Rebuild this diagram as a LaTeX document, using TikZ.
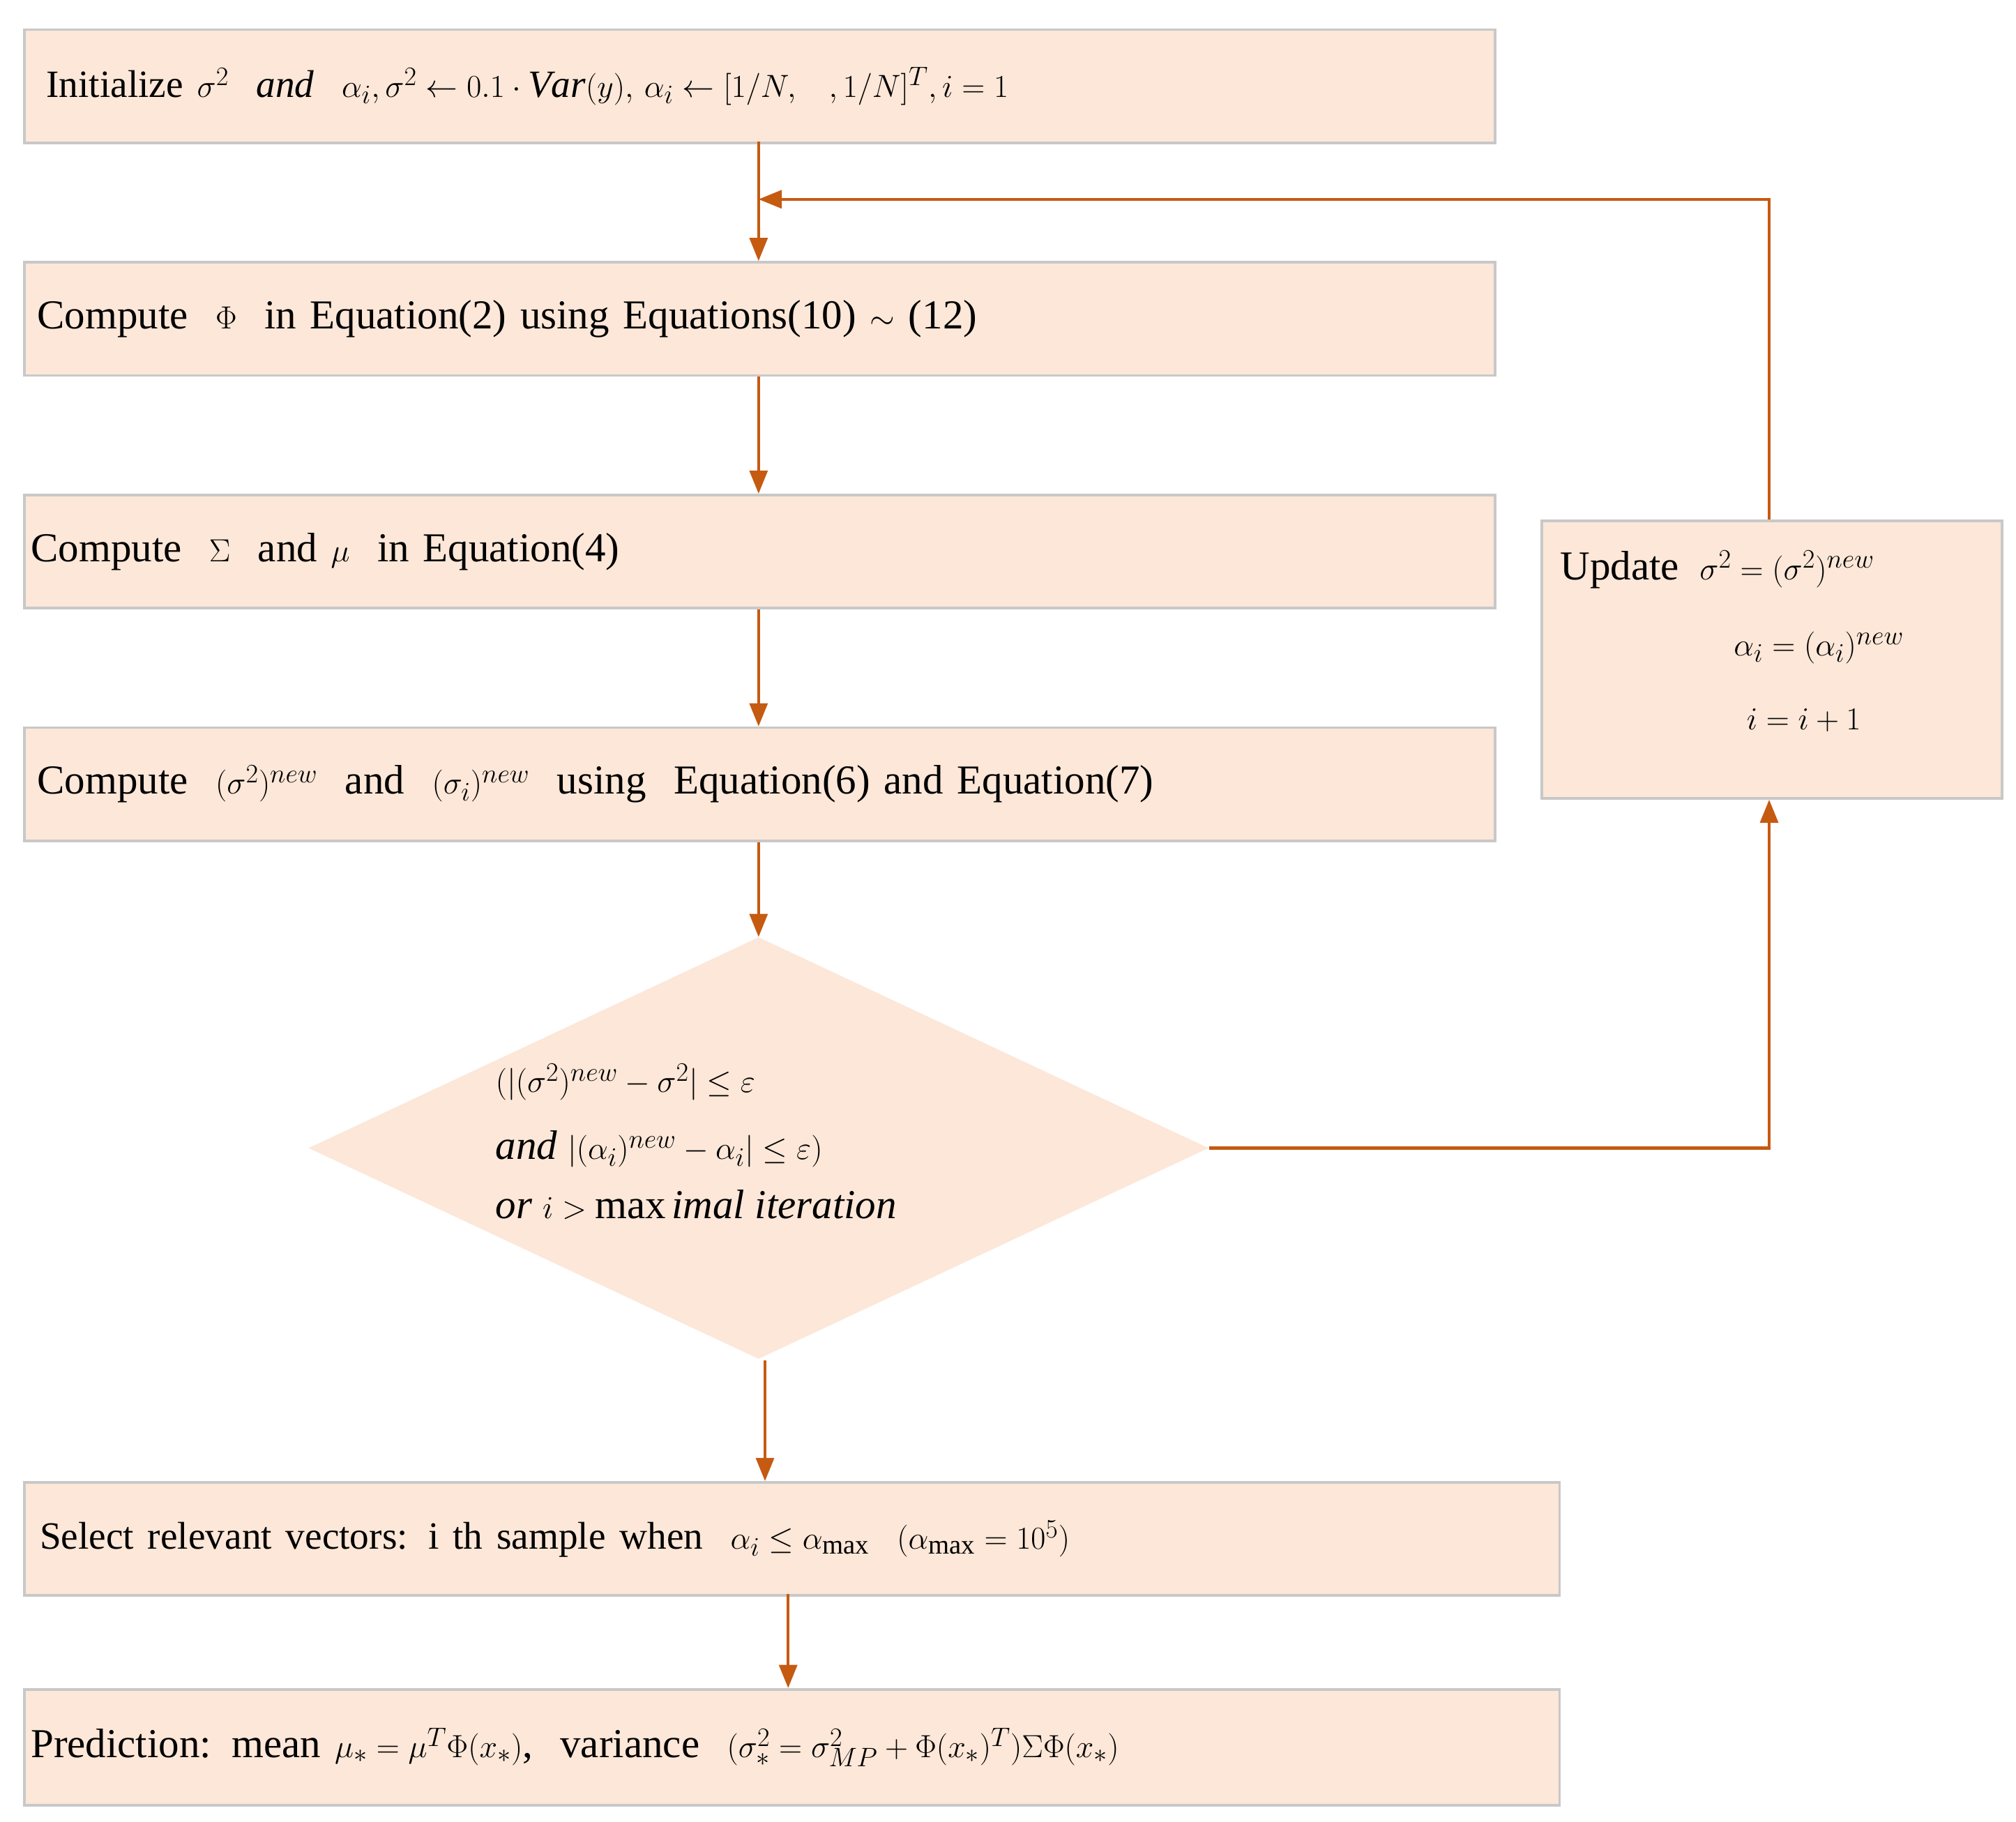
\documentclass[tikz,border=0pt]{standalone}
\usepackage{fontspec}
\setmainfont{Liberation Serif}
\DeclareMathSizes{32}{32}{22}{16}
\DeclareMathSizes{30}{30}{21}{15}
\usetikzlibrary{arrows.meta,shapes.geometric}
\definecolor{boxfill}{HTML}{FCE7D8}
\definecolor{boxline}{HTML}{C8C8C8}
\definecolor{arr}{HTML}{C55A11}
\begin{document}
\begin{tikzpicture}[x=1pt,y=-1pt,
  stepbox/.style={draw=boxline,line width=2pt,fill=boxfill,anchor=north west,inner sep=0pt,font=\fontsize{32}{38}\selectfont},
  conn/.style={draw=arr,line width=2.2pt,-{Triangle[length=18pt,width=14pt]}}]
\useasboundingbox (0,0) rectangle (1568,1417);
\node[stepbox,minimum width=1144pt,minimum height=88pt,text width=1110pt,align=left] (b1) at (18,22)
  {\fontsize{30}{36}\selectfont Initialize $\sigma^2$ \ \textit{and} \ $\alpha_i,\sigma^2\leftarrow 0.1\cdot \mathit{Var}(y),\,\alpha_i\leftarrow[1/N,\ \ ,1/N]^T,i=1$};
\node[stepbox,minimum width=1144pt,minimum height=88pt,text width=1124pt,align=left] (b2) at (18,203)
  {Compute \ $\Phi$ \ in Equation(2) using Equations(10) $\sim$ (12)};
\node[stepbox,minimum width=1144pt,minimum height=88pt,text width=1134pt,align=left] (b3) at (18,384)
  {Compute \ $\Sigma$ \ and $\mu$ \ in Equation(4)};
\node[stepbox,minimum width=1144pt,minimum height=88pt,text width=1124pt,align=left] (b4) at (18,565)
  {Compute \ $(\sigma^2)^{new}$ \ and \ $(\sigma_i)^{new}$ \ using \ Equation(6) and Equation(7)};
\node[draw=none,fill=boxfill,diamond,aspect=2.13,minimum width=700pt,minimum height=328pt,inner sep=0pt] (d) at (590,893) {};
\node[font=\fontsize{32}{38}\selectfont,anchor=west,align=left] (dt) at (382,888)
  {$(|(\sigma^2)^{new}-\sigma^2|\le\varepsilon$\\[14pt] $\mathit{and}\ |(\alpha_i)^{new}-\alpha_i|\le\varepsilon)$\\[8pt] $\mathit{or}\ i>\max\mathit{imal\ iteration}$};
\node[stepbox,minimum width=358pt,minimum height=216pt] (u) at (1198,404) {};
\node[font=\fontsize{32}{38}\selectfont,anchor=north west,align=left] (ut) at (1210,425)
  {Update \ $\sigma^2=(\sigma^2)^{new}$};
\node[font=\fontsize{32}{38}\selectfont,anchor=north west] (ut2) at (1345,488) {$\alpha_i=(\alpha_i)^{new}$};
\node[font=\fontsize{32}{38}\selectfont,anchor=north west] (ut3) at (1355,548) {$i=i+1$};
\node[stepbox,minimum width=1194pt,minimum height=88pt,text width=1170pt,align=left] (b5) at (18,1152)
  {\fontsize{30}{36}\selectfont Select relevant vectors: i th sample when \ $\alpha_i\le\alpha_{\max}$ \ $(\alpha_{\max}=10^5)$};
\node[stepbox,minimum width=1194pt,minimum height=90pt,text width=1184pt,align=left] (b6) at (18,1313)
  {Prediction: mean $\mu_*=\mu^T\Phi(x_*)$, \ variance \ $(\sigma_*^2=\sigma_{MP}^2+\Phi(x_*)^T)\Sigma\Phi(x_*)$};
\coordinate (j) at (590,155);
\coordinate (c1) at (1376,155);
\coordinate (c2) at (1376,893);
\draw[conn] (590,110) -- (b2.north -| j);
\draw[conn] (u.north -| c1) -- (c1) -- (590,155);
\draw[conn] (b2.south -| j) -- (b3.north -| j);
\draw[conn] (b3.south -| j) -- (b4.north -| j);
\draw[conn] (b4.south -| j) -- (d.north -| j);
\draw[conn] (d.east) -- (c2) -- (u.south -| c2);
\draw[conn] (595,1058) -- (595,1152);
\draw[conn] (613,1240) -- (613,1313);
\end{tikzpicture}
\end{document}
